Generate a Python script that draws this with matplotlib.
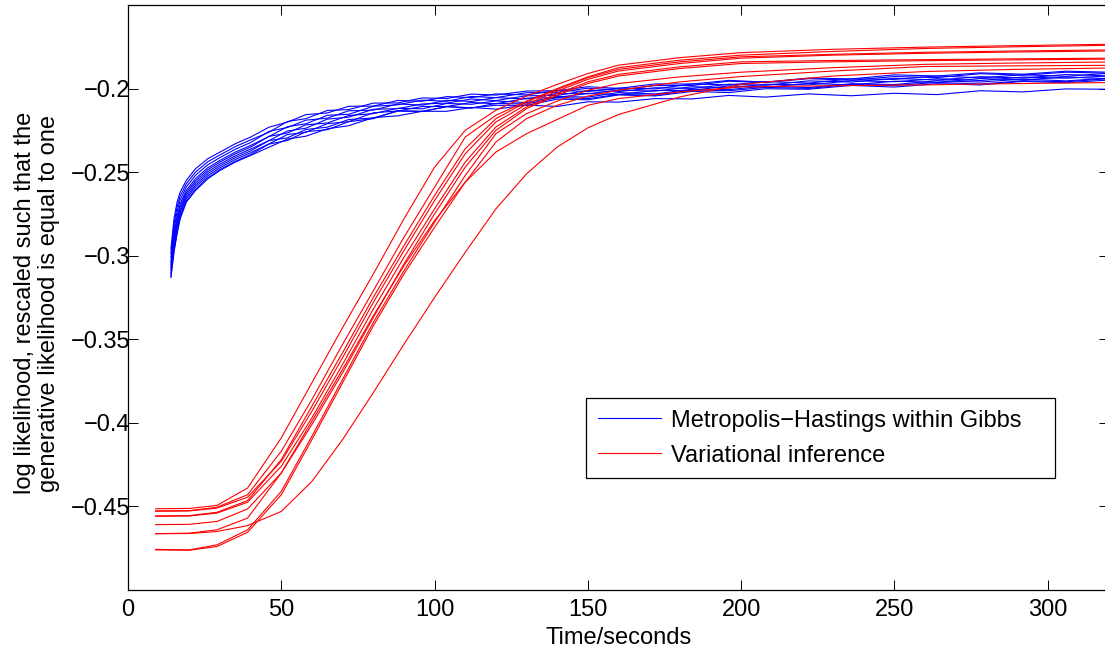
import matplotlib
matplotlib.use("Agg")
import matplotlib.pyplot as plt

plt.rcParams.update({'font.family': ['Liberation Sans', 'DejaVu Sans'],
                     'font.size': 17})

# Metropolis-Hastings within Gibbs runs (time in seconds)
mh_time = [14, 15, 16, 17, 19, 22, 26, 30, 35, 40, 46, 52, 58, 65, 72, 80, 88, 96, 104, 112,
           120, 130, 140, 150, 160, 172, 184, 196, 208, 222, 236, 250, 264, 278, 292, 306, 320]
mh1 = [-0.2960, -0.2780, -0.2680, -0.2620, -0.2550, -0.2480, -0.2420, -0.2380, -0.2330, -0.2290,
       -0.2231, -0.2201, -0.2156, -0.2146, -0.2106, -0.2105, -0.2071, -0.2076, -0.2048, -0.2054,
       -0.2032, -0.2038, -0.2010, -0.2018, -0.1997, -0.2002, -0.1972, -0.1978, -0.1958, -0.1967,
       -0.1942, -0.1945, -0.1924, -0.1936, -0.1917, -0.1927, -0.1908]
mh2 = [-0.2986, -0.2810, -0.2709, -0.2644, -0.2570, -0.2500, -0.2438, -0.2397, -0.2347, -0.2307,
       -0.2261, -0.2197, -0.2180, -0.2131, -0.2126, -0.2087, -0.2086, -0.2056, -0.2059, -0.2033,
       -0.2039, -0.2015, -0.2013, -0.1989, -0.1999, -0.1972, -0.1973, -0.1951, -0.1961, -0.1937,
       -0.1942, -0.1918, -0.1925, -0.1906, -0.1914, -0.1896, -0.1902]
mh3 = [-0.3011, -0.2840, -0.2737, -0.2668, -0.2589, -0.2519, -0.2456, -0.2413, -0.2363, -0.2323,
       -0.2256, -0.2233, -0.2189, -0.2177, -0.2133, -0.2129, -0.2092, -0.2099, -0.2070, -0.2077,
       -0.2054, -0.2062, -0.2029, -0.2031, -0.2010, -0.2015, -0.1989, -0.1996, -0.1974, -0.1978,
       -0.1953, -0.1959, -0.1941, -0.1952, -0.1931, -0.1938, -0.1924]
mh4 = [-0.3037, -0.2870, -0.2766, -0.2692, -0.2609, -0.2539, -0.2474, -0.2430, -0.2380, -0.2340,
       -0.2287, -0.2228, -0.2211, -0.2160, -0.2154, -0.2106, -0.2097, -0.2069, -0.2076, -0.2047,
       -0.2054, -0.2025, -0.2022, -0.1998, -0.2009, -0.1982, -0.1982, -0.1956, -0.1963, -0.1941,
       -0.1950, -0.1928, -0.1934, -0.1911, -0.1920, -0.1902, -0.1908]
mh5 = [-0.3054, -0.2890, -0.2785, -0.2708, -0.2622, -0.2552, -0.2486, -0.2440, -0.2390, -0.2350,
       -0.2286, -0.2266, -0.2217, -0.2206, -0.2161, -0.2150, -0.2118, -0.2121, -0.2089, -0.2094,
       -0.2074, -0.2084, -0.2047, -0.2051, -0.2024, -0.2032, -0.2004, -0.2006, -0.1985, -0.1994,
       -0.1971, -0.1976, -0.1953, -0.1961, -0.1943, -0.1954, -0.1937]
mh6 = [-0.3070, -0.2910, -0.2804, -0.2724, -0.2635, -0.2565, -0.2498, -0.2452, -0.2402, -0.2362,
       -0.2311, -0.2254, -0.2237, -0.2183, -0.2171, -0.2124, -0.2120, -0.2092, -0.2087, -0.2062,
       -0.2072, -0.2043, -0.2041, -0.2011, -0.2018, -0.1995, -0.1999, -0.1974, -0.1980, -0.1954,
       -0.1961, -0.1939, -0.1949, -0.1929, -0.1937, -0.1916, -0.1924]
mh7 = [-0.3088, -0.2930, -0.2823, -0.2740, -0.2648, -0.2578, -0.2510, -0.2463, -0.2413, -0.2373,
       -0.2311, -0.2295, -0.2245, -0.2231, -0.2185, -0.2176, -0.2135, -0.2137, -0.2107, -0.2115,
       -0.2100, -0.2101, -0.2063, -0.2067, -0.2038, -0.2044, -0.2017, -0.2024, -0.2001, -0.2004,
       -0.1981, -0.1991, -0.1971, -0.1978, -0.1957, -0.1965, -0.1949]
mh8 = [-0.3105, -0.2950, -0.2842, -0.2756, -0.2660, -0.2590, -0.2522, -0.2474, -0.2424, -0.2384,
       -0.2331, -0.2275, -0.2262, -0.2210, -0.2198, -0.2145, -0.2134, -0.2107, -0.2107, -0.2083,
       -0.2091, -0.2058, -0.2053, -0.2029, -0.2036, -0.2011, -0.2011, -0.1984, -0.1992, -0.1969,
       -0.1978, -0.1956, -0.1963, -0.1940, -0.1948, -0.1931, -0.1941]
mh9 = [-0.3122, -0.2970, -0.2860, -0.2772, -0.2674, -0.2604, -0.2534, -0.2485, -0.2435, -0.2395,
       -0.2332, -0.2311, -0.2258, -0.2246, -0.2198, -0.2180, -0.2132, -0.2136, -0.2109, -0.2117,
       -0.2089, -0.2092, -0.2054, -0.2060, -0.2035, -0.2040, -0.2008, -0.2013, -0.1993, -0.1999,
       -0.1975, -0.1982, -0.1963, -0.1973, -0.1953, -0.1959, -0.1941]
mh10 = [-0.3130, -0.2980, -0.2870, -0.2780, -0.2680, -0.2610, -0.2540, -0.2490, -0.2440, -0.2400,
        -0.2351, -0.2302, -0.2285, -0.2241, -0.2222, -0.2174, -0.2163, -0.2136, -0.2136, -0.2113,
        -0.2123, -0.2099, -0.2107, -0.2079, -0.2081, -0.2060, -0.2062, -0.2041, -0.2051, -0.2032,
        -0.2043, -0.2028, -0.2036, -0.2013, -0.2020, -0.2002, -0.2004]

# Variational inference runs
vi_time = [9, 20, 29, 39, 50, 60, 70, 80, 90, 100, 110, 120, 130, 140, 150, 160,
           180, 200, 230, 260, 290, 320]
vi1 = [-0.4514, -0.4512, -0.4494, -0.4390, -0.4090, -0.3760, -0.3430, -0.3110, -0.2780, -0.2470, -0.2250,
       -0.2130, -0.2045, -0.1975, -0.1910, -0.1860, -0.1815, -0.1785, -0.1765, -0.1752, -0.1743, -0.1735]
vi2 = [-0.4527, -0.4525, -0.4505, -0.4430, -0.4170, -0.3860, -0.3530, -0.3210, -0.2890, -0.2590, -0.2290,
       -0.2160, -0.2075, -0.2000, -0.1930, -0.1875, -0.1830, -0.1800, -0.1778, -0.1760, -0.1750, -0.1741]
vi3 = [-0.4557, -0.4555, -0.4535, -0.4465, -0.4220, -0.3900, -0.3580, -0.3250, -0.2940, -0.2640, -0.2360,
       -0.2180, -0.2080, -0.2005, -0.1935, -0.1885, -0.1840, -0.1810, -0.1795, -0.1783, -0.1775, -0.1769]
vi4 = [-0.4529, -0.4527, -0.4510, -0.4445, -0.4230, -0.3930, -0.3610, -0.3280, -0.2970, -0.2670, -0.2390,
       -0.2200, -0.2095, -0.2015, -0.1945, -0.1895, -0.1850, -0.1818, -0.1800, -0.1789, -0.1781, -0.1775]
vi5 = [-0.4559, -0.4557, -0.4540, -0.4475, -0.4260, -0.3970, -0.3650, -0.3320, -0.3010, -0.2720, -0.2440,
       -0.2230, -0.2110, -0.2030, -0.1960, -0.1915, -0.1870, -0.1840, -0.1832, -0.1827, -0.1822, -0.1818]
vi6 = [-0.4609, -0.4607, -0.4590, -0.4515, -0.4300, -0.4010, -0.3700, -0.3370, -0.3050, -0.2750, -0.2470,
       -0.2250, -0.2120, -0.2040, -0.1970, -0.1925, -0.1880, -0.1850, -0.1840, -0.1833, -0.1828, -0.1824]
vi7 = [-0.4757, -0.4760, -0.4730, -0.4640, -0.4410, -0.4080, -0.3740, -0.3400, -0.3090, -0.2800, -0.2520,
       -0.2270, -0.2150, -0.2075, -0.2010, -0.1970, -0.1930, -0.1902, -0.1875, -0.1855, -0.1847, -0.1841]
vi8 = [-0.4760, -0.4762, -0.4740, -0.4655, -0.4430, -0.4100, -0.3760, -0.3420, -0.3110, -0.2830, -0.2560,
       -0.2320, -0.2180, -0.2100, -0.2045, -0.2010, -0.1960, -0.1928, -0.1895, -0.1868, -0.1864, -0.1861]
vi9 = [-0.4663, -0.4660, -0.4640, -0.4570, -0.4300, -0.3990, -0.3680, -0.3360, -0.3060, -0.2790, -0.2560,
       -0.2380, -0.2270, -0.2185, -0.2100, -0.2060, -0.2020, -0.1990, -0.1983, -0.1978, -0.1970, -0.1964]
vi10 = [-0.4663, -0.4662, -0.4650, -0.4615, -0.4530, -0.4350, -0.4100, -0.3820, -0.3530, -0.3250, -0.2980,
        -0.2720, -0.2510, -0.2350, -0.2235, -0.2155, -0.2050, -0.1975, -0.1925, -0.1898, -0.1885, -0.1877]

xticks = [0, 50, 100, 150, 200, 250, 300]
yticks = [-0.45, -0.4, -0.35, -0.3, -0.25, -0.2]
ytick_labels = ['\u22120.45', '\u22120.4', '\u22120.35', '\u22120.3', '\u22120.25', '\u22120.2']


def main():
        fig = plt.figure(figsize=(11.05, 6.52), dpi=100)
        ax = fig.add_axes([128/1105., 62/652., 981/1105., 585/652.])

        mh_runs = [mh1, mh2, mh3, mh4, mh5, mh6, mh7, mh8, mh9, mh10]
        vi_runs = [vi1, vi2, vi3, vi4, vi5, vi6, vi7, vi8, vi9, vi10]

        mh_lines = []
        for run in mh_runs:
                l, = ax.plot(mh_time, run, color=(0, 0, 1), linewidth=0.8)
                mh_lines.append(l)
        vi_lines = []
        for run in vi_runs:
                l, = ax.plot(vi_time, run, color=(1, 0, 0), linewidth=0.8)
                vi_lines.append(l)

        ax.set_xlim(0, 320)
        ax.set_ylim(-0.5, -0.15)
        ax.set_xticks(xticks)
        ax.set_xticklabels([str(t) for t in xticks])
        ax.set_yticks(yticks)
        ax.set_yticklabels(ytick_labels)
        ax.tick_params(direction='in', length=7, width=0.7, top=True, right=True)
        ax.tick_params(axis='x', pad=6.5)
        ax.tick_params(axis='y', pad=-1.5)
        for s in ax.spines.values():
                s.set_linewidth(0.9)

        ax.set_xlabel("Time/seconds")
        ax.xaxis.set_label_coords(0.5, -0.063)
        ax.set_ylabel("log likelihood, rescaled such that the\ngenerative likelihood is equal to one",
                      linespacing=1.15)
        ax.yaxis.set_label_coords(-0.069, 0.49)

        leg = ax.legend([mh_lines[0], vi_lines[0]],
                        ["Metropolis\u2212Hastings within Gibbs", "Variational inference"],
                        loc='upper left', bbox_to_anchor=(0.4669, 0.1915, 0.4781, 0.1367),
                        mode='expand', borderaxespad=0, fancybox=False, framealpha=1,
                        edgecolor='black', handlelength=2.7, handletextpad=0.4,
                        labelspacing=0.55, borderpad=0.49, fontsize=17)
        leg.get_frame().set_linewidth(0.9)

        fig.savefig("out.png", dpi=100)


if __name__ == "__main__":
        main()
